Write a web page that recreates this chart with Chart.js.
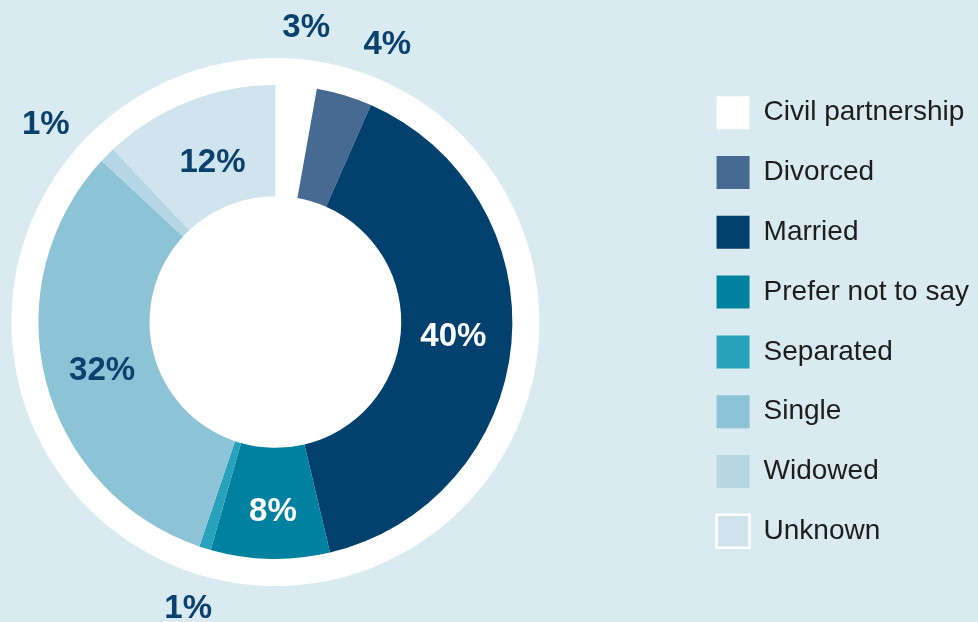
<!DOCTYPE html>
<html>
<head>
<meta charset="utf-8">
<script src="https://cdn.jsdelivr.net/npm/chart.js@4.4.1/dist/chart.umd.min.js"></script>
<style>
  html, body { margin: 0; padding: 0; background: #d9eaf1; overflow: hidden; }
  #wrap { position: relative; width: 978px; height: 622px; overflow: hidden; }
  #c { position: absolute; left: -139px; top: 0; }
</style>
</head>
<body>
<div id="wrap"><canvas id="c" width="1118" height="622"></canvas></div>
<script>
// ---- data ----
const categories = ['Civil partnership', 'Divorced', 'Married', 'Prefer not to say', 'Separated', 'Single', 'Widowed', 'Unknown'];
const shares = [2.8, 3.8, 39.7, 8.1, 0.8, 31.7, 1.1, 12.0];

// ---- styling ----
const sliceColours = ['#ffffff', '#466a91', '#02406d', '#00819f', '#28a2bc', '#8dc3d7', '#b5d7e5', '#cfe4ed'];
const labelColours = ['#0b416d', '#0b416d', '#ffffff', '#ffffff', '#0b416d', '#0b416d', '#0b416d', '#0b416d'];
const labelOutside = [true, true, false, false, true, false, true, false];
const labelNudgeDeg = [0.9, 4.9, -1.2, -0.5, -0.2, -0.85, -3.85, 0.35];
const labelRadialShift = [61, 64, -3, 6, 60, -2, 67, -8];

const FONT = '"Liberation Sans", Arial, Helvetica, sans-serif';
const LABEL_SIZE = 33;

const ringPlugin = {
  id: 'whiteRing',
  beforeDatasetsDraw(chart) {
    const arc = chart.getDatasetMeta(0).data[0];
    if (!arc) return;
    const { x, y, outerRadius } = arc.getProps(['x', 'y', 'outerRadius'], true);
    const ctx = chart.ctx;
    ctx.save();
    ctx.beginPath();
    ctx.arc(x, y, outerRadius + 27, 0, Math.PI * 2);
    ctx.fillStyle = '#ffffff';
    ctx.fill();
    ctx.restore();
  }
};

const labelPlugin = {
  id: 'sliceLabels',
  afterDatasetsDraw(chart) {
    const ctx = chart.ctx;
    const meta = chart.getDatasetMeta(0);
    ctx.save();
    ctx.font = 'bold ' + LABEL_SIZE + 'px ' + FONT;
    ctx.textAlign = 'center';
    ctx.textBaseline = 'alphabetic';
    meta.data.forEach((arc, i) => {
      const p = arc.getProps(['x', 'y', 'startAngle', 'endAngle', 'innerRadius', 'outerRadius'], true);
      const mid = (p.startAngle + p.endAngle) / 2 + labelNudgeDeg[i] * Math.PI / 180;
      const base = labelOutside[i] ? p.outerRadius : (p.outerRadius + p.innerRadius) / 2;
      const r = base + labelRadialShift[i];
      ctx.fillStyle = labelColours[i];
      ctx.fillText(Math.round(shares[i]) + '%',
        p.x + Math.cos(mid) * r,
        p.y + Math.sin(mid) * r + LABEL_SIZE * 0.358);
    });
    ctx.restore();
  }
};

const baseGenerate = Chart.overrides.doughnut.plugins.legend.labels.generateLabels;

new Chart(document.getElementById('c'), {
  type: 'doughnut',
  data: {
    labels: categories,
    datasets: [{
      data: shares,
      backgroundColor: sliceColours,
      borderWidth: 0,
      radius: 237,
      cutout: '53.1%'
    }]
  },
  options: {
    responsive: false,
    animation: false,
    devicePixelRatio: 1,
    layout: { padding: { left: 0, right: 0, top: 22, bottom: 0 } },
    plugins: {
      tooltip: { enabled: false },
      legend: {
        position: 'right',
        align: 'center',
        labels: {
          boxWidth: 33,
          boxHeight: 33,
          padding: 26.8,
          color: '#1d1d1b',
          font: { family: FONT, size: 28 },
          generateLabels(chart) {
            const items = baseGenerate(chart);
            items.forEach((it, i) => {
              if (i === items.length - 1) {
                it.strokeStyle = '#ffffff';
                it.lineWidth = 2.5;
              } else {
                it.lineWidth = 0;
              }
            });
            return items;
          }
        }
      }
    }
  },
  plugins: [ringPlugin, labelPlugin]
});
</script>
</body>
</html>
